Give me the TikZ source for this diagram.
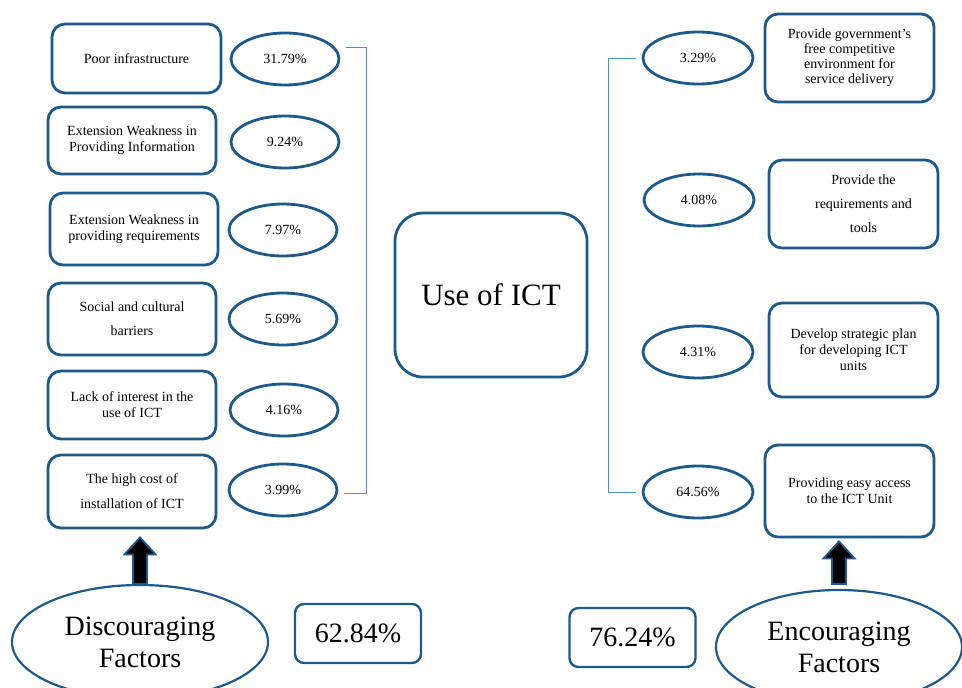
\documentclass[tikz,border=0pt]{standalone}
\usepackage{fontspec}
\setmainfont{Liberation Serif}
\usetikzlibrary{shapes.geometric,calc}

\definecolor{boxblue}{RGB}{31,89,138}
\definecolor{lineblue}{RGB}{75,145,205}

% block arrow pointing up, from #1 (tail) to #2 (tip)
\newcommand\blockarrow[2]{%
  \draw[uparrow] let \p1=(#1), \p2=(#2) in
    (\x1-7pt,\y1) -- (\x1-7pt,\y2-17pt) -- (\x1-15.5pt,\y2-17pt) -- (\x1,\y2)
    -- (\x1+15.5pt,\y2-17pt) -- (\x1+7pt,\y2-17pt) -- (\x1+7pt,\y1) -- cycle;}

\begin{document}
\begin{tikzpicture}[x=1pt,y=-1pt,
  factor/.style={draw=boxblue, line width=2.8pt, rounded corners=13pt,
    minimum width=168pt, minimum height=70pt, align=center, inner sep=2pt,
    font=\fontsize{14}{16}\selectfont},
  pct/.style={ellipse, draw=boxblue, line width=2.8pt, minimum width=108pt,
    minimum height=52pt, inner sep=0pt, font=\fontsize{14}{16}\selectfont},
  bracket/.style={draw=lineblue, line width=0.9pt},
  bigoval/.style={ellipse, draw=boxblue, line width=2.2pt, align=center,
    inner sep=0pt, font=\fontsize{28}{32}\selectfont},
  total/.style={draw=boxblue, line width=2.4pt, rounded corners=9pt,
    minimum width=126pt, minimum height=59pt, font=\fontsize{28}{32}\selectfont},
  uparrow/.style={draw=boxblue, line width=1.8pt, fill=black}]

  % 1. Frame
  \useasboundingbox (0,0) rectangle (962,688);
  \clip (0,0) rectangle (962,688);

  % 2. Discouraging factors (left)
  \node[factor, minimum width=169pt, minimum height=69pt] (f1) at (136.5,58.5) {Poor infrastructure};
  \node[factor, minimum height=67pt] (f2) at (132,140.5) {Extension Weakness in\\Providing Information};
  \node[factor, minimum height=72pt] (f3) at (134,229) {Extension Weakness in\\providing requirements};
  \node[factor, minimum height=72pt] (f4) at (132,319) {Social and cultural\\[8pt]barriers};
  \node[factor, minimum height=68pt] (f5) at (132,405) {Lack of interest in the\\use of ICT};
  \node[factor, minimum height=73pt] (f6) at (132,491.5) {The high cost of\\[9pt]installation of ICT};

  \node[pct] (p1) at (285,59) {31.79\%};
  \node[pct] (p2) at (285,142) {9.24\%};
  \node[pct] (p3) at (283,230) {7.97\%};
  \node[pct] (p4) at (283,319) {5.69\%};
  \node[pct] (p5) at (284,410) {4.16\%};
  \node[pct] (p6) at (283,490) {3.99\%};

  % 3. Centre
  \node[draw=boxblue, line width=2.8pt, rounded corners=28pt, minimum width=192pt,
    minimum height=164pt, font=\fontsize{31}{36}\selectfont] (ict) at (491,295) {Use of ICT};

  % 4. Encouraging factors (right)
  \node[pct, minimum width=110pt] (q1) at (698,58) {3.29\%};
  \node[pct, minimum width=110pt] (q2) at (699,200) {4.08\%};
  \node[pct, minimum width=110pt] (q3) at (698,352) {4.31\%};
  \node[pct, minimum width=110pt] (q4) at (698,492) {64.56\%};

  \node[factor, minimum width=169pt, minimum height=88pt, font=\fontsize{14}{15}\selectfont]
    (r1) at (849.5,58) {Provide government's\\free competitive\\environment for\\service delivery};
  \node[factor, minimum width=169pt, minimum height=88pt] (r2) at (853.5,204)
    {\hspace*{20pt}Provide the\\[8pt]\hspace*{20pt}requirements and\\[8pt]\hspace*{20pt}tools};
  \node[factor, minimum width=169pt, minimum height=94pt] (r3) at (853.5,350)
    {Develop strategic plan\\for developing ICT\\units};
  \node[factor, minimum width=169pt, minimum height=92pt] (r4) at (849.5,491)
    {Providing easy access\\to the ICT Unit};

  % 5. Brackets
  \draw[bracket] ([xshift=6pt,yshift=12pt]p1.east) -- ++(20,0) |- ([xshift=6pt,yshift=-3pt]p6.east);
  \draw[bracket] ([xshift=-6pt]q1.west) -- ++(-27,0) |- ([xshift=-6pt]q4.west);

  % 6. Bottom row
  \node[bigoval, minimum width=256pt, minimum height=114pt] (disc) at (140,642) {Discouraging\\Factors};
  \node[bigoval, minimum width=246pt, minimum height=114pt] (enc) at (839,647) {Encouraging\\Factors};
  \node[total] (tot1) at (358,633.5) {62.84\%};
  \node[total] (tot2) at (632.5,637.5) {76.24\%};

  % 7. Arrows
  \blockarrow{disc.north}{[yshift=-8pt]f6.south}
  \blockarrow{[yshift=5pt]enc.north}{[yshift=-3pt]r4.south}
\end{tikzpicture}
\end{document}
